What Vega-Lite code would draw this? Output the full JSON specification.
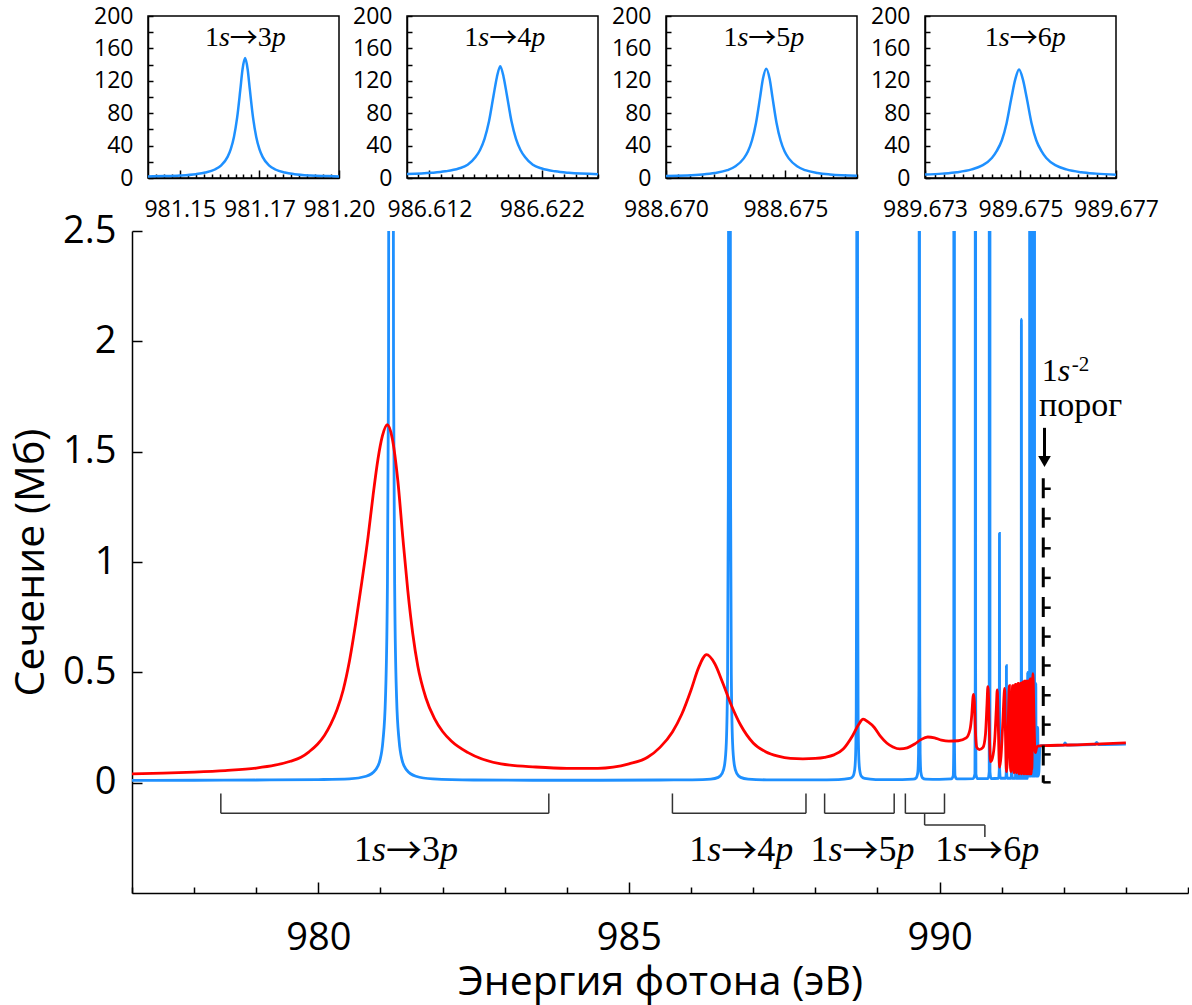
{
  "$schema": "https://vega.github.io/schema/vega-lite/v6.json",
  "background": "white",
  "padding": {"left": 10, "top": 4, "right": 0, "bottom": 8},
  "config": {
    "view": {"stroke": null},
    "font": "Open Sans",
    "axis": {"domainColor": "black", "tickColor": "black", "labelColor": "black", "titleColor": "black", "grid": false, "domainWidth": 1.5, "tickWidth": 1.5, "labelFont": "Open Sans", "titleFont": "Open Sans", "titleFontWeight": "normal", "labelFlush": false, "labelOverlap": false}
  },
  "datasets": {
    "ins1": [{"e":981.14,"s":2.0},{"e":981.145,"s":2.4},{"e":981.15,"s":3.1},{"e":981.155,"s":4.7},{"e":981.158,"s":6.7},{"e":981.161,"s":10.5},{"e":981.163,"s":15.7},{"e":981.165,"s":26.1},{"e":981.166,"s":35.7},{"e":981.167,"s":50.7},{"e":981.168,"s":74.5},{"e":981.169,"s":109},{"e":981.1697,"s":134.3},{"e":981.1705,"s":148},{"e":981.1713,"s":134.3},{"e":981.172,"s":109},{"e":981.173,"s":74.5},{"e":981.174,"s":50.7},{"e":981.175,"s":35.7},{"e":981.176,"s":26.1},{"e":981.178,"s":15.7},{"e":981.18,"s":10.5},{"e":981.183,"s":6.7},{"e":981.186,"s":4.7},{"e":981.191,"s":3.1},{"e":981.196,"s":2.4},{"e":981.2,"s":2.0}],
    "ins2": [{"e":986.61,"s":4.8},{"e":986.6122,"s":6.4},{"e":986.6134,"s":8.2},{"e":986.6146,"s":11.7},{"e":986.6154,"s":16.4},{"e":986.6161,"s":25.9},{"e":986.6165,"s":34.6},{"e":986.6169,"s":48.3},{"e":986.6173,"s":70},{"e":986.6177,"s":101.5},{"e":986.618,"s":124.5},{"e":986.6183,"s":138},{"e":986.6186,"s":124.5},{"e":986.6189,"s":101.5},{"e":986.6193,"s":70},{"e":986.6197,"s":48.3},{"e":986.6201,"s":34.6},{"e":986.6205,"s":25.9},{"e":986.6212,"s":16.4},{"e":986.622,"s":11.7},{"e":986.6232,"s":8.2},{"e":986.6244,"s":6.4},{"e":986.627,"s":4.7}],
    "ins3": [{"e":988.67,"s":2.4},{"e":988.67153,"s":4.4},{"e":988.67205,"s":6.2},{"e":988.67257,"s":9.7},{"e":988.67291,"s":14.4},{"e":988.67325,"s":23.9},{"e":988.67343,"s":32.6},{"e":988.6736,"s":46.3},{"e":988.67377,"s":68},{"e":988.67394,"s":99.5},{"e":988.67406,"s":122.5},{"e":988.6742,"s":135},{"e":988.67434,"s":122.5},{"e":988.67446,"s":99.5},{"e":988.67463,"s":68},{"e":988.6748,"s":46.3},{"e":988.67497,"s":32.6},{"e":988.67515,"s":23.9},{"e":988.67549,"s":14.4},{"e":988.67583,"s":9.7},{"e":988.67635,"s":6.2},{"e":988.67687,"s":4.4},{"e":988.678,"s":2.7}],
    "ins4": [{"e":989.673,"s":4.2},{"e":989.67336,"s":5.4},{"e":989.67367,"s":7.1},{"e":989.67398,"s":10.6},{"e":989.67419,"s":15.2},{"e":989.6744,"s":24.6},{"e":989.6745,"s":33.2},{"e":989.67461,"s":46.6},{"e":989.67471,"s":68},{"e":989.67481,"s":99},{"e":989.67489,"s":121.7},{"e":989.67497,"s":134},{"e":989.67505,"s":121.7},{"e":989.67513,"s":99},{"e":989.67523,"s":68},{"e":989.67533,"s":46.6},{"e":989.67544,"s":33.2},{"e":989.67554,"s":24.6},{"e":989.67575,"s":15.2},{"e":989.67596,"s":10.6},{"e":989.67627,"s":7.1},{"e":989.67658,"s":5.4},{"e":989.677,"s":4.1}],
    "lab1": [{"e":981.1706,"s":162.6,"a":"1","b":"s","r":"→","c":"3","d":"p"}],
    "lab2": [{"e":986.6187,"s":162.6,"a":"1","b":"s","r":"→","c":"4","d":"p"}],
    "lab3": [{"e":988.6741,"s":162.6,"a":"1","b":"s","r":"→","c":"5","d":"p"}],
    "lab4": [{"e":989.6751,"s":162.6,"a":"1","b":"s","r":"→","c":"6","d":"p"}],
    "blue": [{"e":977.0,"s":0.010},{"e":978.0,"s":0.011},{"e":979.0,"s":0.012},{"e":980.0,"s":0.014},{"e":980.5,"s":0.017},{"e":980.77,"s":0.029},{"e":980.92,"s":0.058},{"e":980.99,"s":0.100},{"e":981.04,"s":0.190},{"e":981.08,"s":0.380},{"e":981.11,"s":0.840},{"e":981.13,"s":1.880},{"e":981.15,"s":7.5},{"e":981.17,"s":147},{"e":981.19,"s":7.5},{"e":981.21,"s":1.880},{"e":981.23,"s":0.840},{"e":981.26,"s":0.380},{"e":981.30,"s":0.190},{"e":981.35,"s":0.100},{"e":981.42,"s":0.058},{"e":981.57,"s":0.029},{"e":981.84,"s":0.017},{"e":982.5,"s":0.012},{"e":983.5,"s":0.011},{"e":984.5,"s":0.011},{"e":985.5,"s":0.012},{"e":986.018,"s":0.013},{"e":986.318,"s":0.016},{"e":986.438,"s":0.024},{"e":986.498,"s":0.041},{"e":986.538,"s":0.078},{"e":986.568,"s":0.183},{"e":986.588,"s":0.490},{"e":986.600,"s":1.34},{"e":986.608,"s":4.3},{"e":986.618,"s":137},{"e":986.628,"s":4.3},{"e":986.636,"s":1.34},{"e":986.648,"s":0.490},{"e":986.668,"s":0.183},{"e":986.698,"s":0.078},{"e":986.738,"s":0.041},{"e":986.798,"s":0.024},{"e":986.918,"s":0.016},{"e":987.218,"s":0.013},{"e":988.0,"s":0.013},{"e":988.374,"s":0.014},{"e":988.554,"s":0.019},{"e":988.604,"s":0.028},{"e":988.634,"s":0.058},{"e":988.649,"s":0.126},{"e":988.659,"s":0.320},{"e":988.666,"s":1.09},{"e":988.670,"s":4.4},{"e":988.674,"s":135},{"e":988.678,"s":4.4},{"e":988.682,"s":1.09},{"e":988.689,"s":0.320},{"e":988.699,"s":0.126},{"e":988.714,"s":0.058},{"e":988.744,"s":0.028},{"e":988.794,"s":0.019},{"e":988.974,"s":0.014},{"e":989.4,"s":0.014},{"e":989.575,"s":0.016},{"e":989.625,"s":0.022},{"e":989.650,"s":0.046},{"e":989.662,"s":0.132},{"e":989.668,"s":0.42},{"e":989.672,"s":2.2},{"e":989.675,"s":134},{"e":989.678,"s":2.2},{"e":989.682,"s":0.42},{"e":989.688,"s":0.132},{"e":989.700,"s":0.046},{"e":989.725,"s":0.022},{"e":989.775,"s":0.016},{"e":990.0,"s":0.015},{"e":990.19,"s":0.017},{"e":990.22,"s":0.030},{"e":990.23,"s":0.200},{"e":990.235,"s":100},{"e":990.24,"s":0.200},{"e":990.25,"s":0.030},{"e":990.28,"s":0.017},{"e":990.54,"s":0.018},{"e":990.57,"s":0.040},{"e":990.575,"s":0.5},{"e":990.578,"s":100},{"e":990.581,"s":0.5},{"e":990.586,"s":0.040},{"e":990.61,"s":0.018},{"e":990.78,"s":0.018},{"e":990.80,"s":0.050},{"e":990.806,"s":100},{"e":990.812,"s":0.050},{"e":990.83,"s":0.018},{"e":990.95,"s":0.020},{"e":990.962,"s":0.060},{"e":990.965,"s":1.13},{"e":990.968,"s":0.060},{"e":990.98,"s":0.020},{"e":991.065,"s":0.020},{"e":991.074,"s":0.050},{"e":991.077,"s":0.53},{"e":991.080,"s":0.050},{"e":991.09,"s":0.020},{"e":991.155,"s":0.020},{"e":991.162,"s":0.30},{"e":991.169,"s":0.020},{"e":991.222,"s":0.020},{"e":991.227,"s":0.25},{"e":991.232,"s":0.020},{"e":991.274,"s":0.020},{"e":991.278,"s":0.40},{"e":991.282,"s":0.020},{"e":991.314,"s":0.020},{"e":991.318,"s":2.1},{"e":991.322,"s":0.020},{"e":991.348,"s":0.020},{"e":991.351,"s":0.35},{"e":991.354,"s":0.020},{"e":991.376,"s":0.020},{"e":991.378,"s":0.30},{"e":991.380,"s":0.020},{"e":991.398,"s":0.020},{"e":991.400,"s":0.45},{"e":991.402,"s":0.020},{"e":991.417,"s":0.020},{"e":991.419,"s":0.50},{"e":991.421,"s":0.030},{"e":991.433,"s":0.030},{"e":991.435,"s":0.40},{"e":991.437,"s":0.030},{"e":991.45,"s":0.030},{"e":991.458,"s":50},{"e":991.466,"s":0.030},{"e":991.475,"s":0.030},{"e":991.48,"s":0.50},{"e":991.485,"s":0.030},{"e":991.50,"s":0.030},{"e":991.505,"s":50},{"e":991.51,"s":0.030},{"e":991.52,"s":0.030},{"e":991.525,"s":50},{"e":991.53,"s":0.030},{"e":991.545,"s":0.030},{"e":991.55,"s":0.45},{"e":991.555,"s":0.030},{"e":991.57,"s":0.030},{"e":991.58,"s":0.25},{"e":991.59,"s":0.030},{"e":991.60,"s":0.050},{"e":991.615,"s":0.160},{"e":991.63,"s":0.168},{"e":991.8,"s":0.168},{"e":992.0,"s":0.170},{"e":992.02,"s":0.180},{"e":992.05,"s":0.170},{"e":992.5,"s":0.172},{"e":992.53,"s":0.183},{"e":992.56,"s":0.173},{"e":993.0,"s":0.175}],
    "red": [{"e":977.0,"s":0.040},{"e":977.5,"s":0.043},{"e":978.0,"s":0.048},{"e":978.5,"s":0.055},{"e":979.0,"s":0.066},{"e":979.3,"s":0.079},{"e":979.55,"s":0.097},{"e":979.72,"s":0.115},{"e":979.85,"s":0.140},{"e":979.99,"s":0.175},{"e":980.1,"s":0.215},{"e":980.2,"s":0.265},{"e":980.3,"s":0.330},{"e":980.4,"s":0.420},{"e":980.5,"s":0.550},{"e":980.6,"s":0.720},{"e":980.7,"s":0.910},{"e":980.80,"s":1.113},{"e":980.88,"s":1.300},{"e":980.96,"s":1.467},{"e":981.03,"s":1.570},{"e":981.11,"s":1.622},{"e":981.19,"s":1.560},{"e":981.28,"s":1.367},{"e":981.36,"s":1.110},{"e":981.44,"s":0.870},{"e":981.52,"s":0.675},{"e":981.60,"s":0.530},{"e":981.73,"s":0.385},{"e":981.87,"s":0.290},{"e":982.00,"s":0.232},{"e":982.14,"s":0.189},{"e":982.41,"s":0.136},{"e":982.94,"s":0.085},{"e":983.5,"s":0.071},{"e":984.0,"s":0.065},{"e":984.5,"s":0.065},{"e":985.0,"s":0.085},{"e":985.3,"s":0.115},{"e":985.5,"s":0.160},{"e":985.7,"s":0.230},{"e":985.85,"s":0.310},{"e":986.0,"s":0.420},{"e":986.12,"s":0.520},{"e":986.25,"s":0.580},{"e":986.38,"s":0.540},{"e":986.5,"s":0.460},{"e":986.65,"s":0.350},{"e":986.8,"s":0.260},{"e":987.0,"s":0.180},{"e":987.2,"s":0.140},{"e":987.4,"s":0.120},{"e":987.6,"s":0.110},{"e":987.8,"s":0.108},{"e":988.0,"s":0.110},{"e":988.15,"s":0.115},{"e":988.3,"s":0.126},{"e":988.45,"s":0.153},{"e":988.6,"s":0.213},{"e":988.7,"s":0.265},{"e":988.77,"s":0.288},{"e":988.85,"s":0.275},{"e":988.95,"s":0.250},{"e":989.05,"s":0.210},{"e":989.15,"s":0.180},{"e":989.25,"s":0.162},{"e":989.36,"s":0.153},{"e":989.48,"s":0.158},{"e":989.6,"s":0.175},{"e":989.7,"s":0.195},{"e":989.81,"s":0.207},{"e":989.92,"s":0.203},{"e":990.03,"s":0.193},{"e":990.15,"s":0.188},{"e":990.3,"s":0.190},{"e":990.43,"s":0.203},{"e":990.49,"s":0.240},{"e":990.52,"s":0.310},{"e":990.54,"s":0.390},{"e":990.55,"s":0.400},{"e":990.56,"s":0.370},{"e":990.58,"s":0.220},{"e":990.60,"s":0.160},{"e":990.64,"s":0.150},{"e":990.70,"s":0.160},{"e":990.74,"s":0.220},{"e":990.765,"s":0.360},{"e":990.778,"s":0.435},{"e":990.79,"s":0.380},{"e":990.805,"s":0.200},{"e":990.82,"s":0.095},{"e":990.85,"s":0.110},{"e":990.89,"s":0.200},{"e":990.915,"s":0.340},{"e":990.929,"s":0.420},{"e":990.94,"s":0.340},{"e":990.955,"s":0.150},{"e":990.967,"s":0.070},{"e":990.99,"s":0.120},{"e":991.02,"s":0.280},{"e":991.04,"s":0.400},{"e":991.048,"s":0.427},{"e":991.057,"s":0.300},{"e":991.07,"s":0.100},{"e":991.08,"s":0.050},{"e":991.10,"s":0.200},{"e":991.125,"s":0.440},{"e":991.135,"s":0.120},{"e":991.15,"s":0.050},{"e":991.175,"s":0.440},{"e":991.185,"s":0.100},{"e":991.20,"s":0.045},{"e":991.218,"s":0.445},{"e":991.226,"s":0.100},{"e":991.238,"s":0.045},{"e":991.262,"s":0.450},{"e":991.27,"s":0.090},{"e":991.28,"s":0.040},{"e":991.302,"s":0.450},{"e":991.309,"s":0.080},{"e":991.318,"s":0.040},{"e":991.335,"s":0.455},{"e":991.341,"s":0.070},{"e":991.35,"s":0.040},{"e":991.362,"s":0.460},{"e":991.368,"s":0.060},{"e":991.376,"s":0.040},{"e":991.388,"s":0.460},{"e":991.393,"s":0.050},{"e":991.40,"s":0.040},{"e":991.41,"s":0.460},{"e":991.414,"s":0.050},{"e":991.42,"s":0.040},{"e":991.428,"s":0.460},{"e":991.432,"s":0.050},{"e":991.437,"s":0.040},{"e":991.444,"s":0.460},{"e":991.448,"s":0.050},{"e":991.452,"s":0.040},{"e":991.458,"s":0.470},{"e":991.461,"s":0.050},{"e":991.465,"s":0.040},{"e":991.47,"s":0.470},{"e":991.473,"s":0.050},{"e":991.477,"s":0.040},{"e":991.482,"s":0.470},{"e":991.485,"s":0.060},{"e":991.49,"s":0.100},{"e":991.504,"s":0.494},{"e":991.52,"s":0.300},{"e":991.535,"s":0.150},{"e":991.546,"s":0.136},{"e":991.56,"s":0.155},{"e":991.58,"s":0.166},{"e":991.7,"s":0.168},{"e":992.0,"s":0.170},{"e":992.3,"s":0.172},{"e":992.6,"s":0.176},{"e":993.0,"s":0.180}],
    "brk": [{"e":978.43,"s":-0.049,"e2":978.43,"s2":-0.139},{"e":983.71,"s":-0.049,"e2":983.71,"s2":-0.139},{"e":978.43,"s":-0.139,"e2":983.71,"s2":-0.139},{"e":985.70,"s":-0.049,"e2":985.70,"s2":-0.139},{"e":987.85,"s":-0.049,"e2":987.85,"s2":-0.139},{"e":985.70,"s":-0.139,"e2":987.85,"s2":-0.139},{"e":988.15,"s":-0.049,"e2":988.15,"s2":-0.139},{"e":989.27,"s":-0.049,"e2":989.27,"s2":-0.139},{"e":988.15,"s":-0.139,"e2":989.27,"s2":-0.139},{"e":989.45,"s":-0.049,"e2":989.45,"s2":-0.139},{"e":990.08,"s":-0.049,"e2":990.08,"s2":-0.139},{"e":989.45,"s":-0.139,"e2":990.08,"s2":-0.139},{"e":989.76,"s":-0.139,"e2":989.76,"s2":-0.192},{"e":989.76,"s":-0.192,"e2":990.73,"s2":-0.192},{"e":990.73,"s":-0.192,"e2":990.73,"s2":-0.246}],
    "brl": [{"e":981.41,"s":-0.355,"a":"1","b":"s","r":"→","c":"3","d":"p"},{"e":986.81,"s":-0.355,"a":"1","b":"s","r":"→","c":"4","d":"p"},{"e":988.76,"s":-0.355,"a":"1","b":"s","r":"→","c":"5","d":"p"},{"e":990.77,"s":-0.355,"a":"1","b":"s","r":"→","c":"6","d":"p"}],
    "thr": [{"e":991.67,"s":1.38,"s2":0}],
    "thrt": [{"e":991.67,"e2":991.79,"s":1.332},{"e":991.67,"e2":991.79,"s":1.197},{"e":991.67,"e2":991.79,"s":1.062},{"e":991.67,"e2":991.79,"s":0.928},{"e":991.67,"e2":991.79,"s":0.793},{"e":991.67,"e2":991.79,"s":0.662},{"e":991.67,"e2":991.79,"s":0.531},{"e":991.67,"e2":991.79,"s":0.396},{"e":991.67,"e2":991.79,"s":0.263},{"e":991.67,"e2":991.79,"s":0.128},{"e":991.67,"e2":991.79,"s":0.0015}],
    "arr": [{"e":991.69,"s":1.608,"s2":1.47}],
    "arh": [{"e":991.69,"s":1.455}],
    "t1s": [{"e":991.645,"s":1.82,"a":"1","b":"s","c":"-2"}],
    "tpor": [{"e":992.27,"s":1.661,"t":"порог"}]
  },
  "bounds": "flush",
  "spacing": 215,
  "vconcat": [
    {
      "bounds": "flush",
      "spacing": 15,
      "hconcat": [
        {"width": 1, "height": 162, "data": {"values": []}, "mark": "point"},
        {
          "bounds": "flush",
          "spacing": 68,
          "hconcat": [
            {
              "width": 191, "height": 162,
              "view": {"stroke": "black", "strokeWidth": 1.5},
              "encoding": {
                "x": {"field": "e", "type": "quantitative", "scale": {"domain": [981.14, 981.2], "nice": false, "zero": false},
                  "axis": {"title": null, "values": [981.1425,981.145,981.1475,981.15,981.1525,981.155,981.1575,981.16,981.1625,981.165,981.1675,981.17,981.1725,981.175,981.1775,981.18,981.1825,981.185,981.1875,981.19,981.1925,981.195,981.1975,981.2],
                    "labelExpr": "abs(datum.value*40 - round(datum.value*40)) < 0.01 ? format(datum.value, '.2f') : ''",
                    "tickSize": {"condition": {"test": "abs(datum.value*40 - round(datum.value*40)) < 0.01", "value": -8}, "value": -4},
                    "labelPadding": 28, "labelFontSize": 23}},
                "y": {"field": "s", "type": "quantitative", "scale": {"domain": [0, 200], "nice": false},
                  "axis": {"title": null, "values": [0,20,40,60,80,100,120,140,160,180,200], "labelExpr": "datum.value % 40 === 0 ? datum.label : ''", "tickSize": -5, "labelPadding": 20, "labelFontSize": 23}}
              },
              "layer": [
                {"data": {"name": "ins1"}, "mark": {"type": "line", "color": "#1E90FF", "strokeWidth": 2.5, "clip": true, "interpolate": "monotone"}},
                {"data": {"name": "lab1"}, "mark": {"type": "text", "font": "Liberation Serif", "fontSize": 28, "align": "left", "baseline": "alphabetic", "dx": -40.5}, "encoding": {"text": {"field": "a"}}},
                {"data": {"name": "lab1"}, "mark": {"type": "text", "font": "Liberation Serif", "fontSize": 28, "fontStyle": "italic", "align": "left", "baseline": "alphabetic", "dx": -26.5}, "encoding": {"text": {"field": "b"}}},
                {"data": {"name": "lab1"}, "mark": {"type": "text", "font": "Noto Sans CJK JP", "fontSize": 28, "align": "left", "baseline": "alphabetic", "dx": -15.6, "dy": 2}, "encoding": {"text": {"field": "r"}}},
                {"data": {"name": "lab1"}, "mark": {"type": "text", "font": "Liberation Serif", "fontSize": 28, "align": "left", "baseline": "alphabetic", "dx": 12.4}, "encoding": {"text": {"field": "c"}}},
                {"data": {"name": "lab1"}, "mark": {"type": "text", "font": "Liberation Serif", "fontSize": 28, "fontStyle": "italic", "align": "left", "baseline": "alphabetic", "dx": 26.4}, "encoding": {"text": {"field": "d"}}}
              ]
            },
            {
              "width": 191, "height": 162,
              "view": {"stroke": "black", "strokeWidth": 1.5},
              "encoding": {
                "x": {"field": "e", "type": "quantitative", "scale": {"domain": [986.61, 986.627], "nice": false, "zero": false},
                  "axis": {"title": null, "values": [986.611,986.612,986.613,986.614,986.615,986.616,986.617,986.618,986.619,986.62,986.621,986.622,986.623,986.624,986.625,986.626,986.627],
                    "labelExpr": "abs((datum.value-986.612)*100 - round((datum.value-986.612)*100)) < 0.01 ? format(datum.value, '.3f') : ''",
                    "tickSize": {"condition": {"test": "abs((datum.value-986.612)*100 - round((datum.value-986.612)*100)) < 0.01", "value": -8}, "value": -4},
                    "labelPadding": 28, "labelFontSize": 23}},
                "y": {"field": "s", "type": "quantitative", "scale": {"domain": [0, 200], "nice": false},
                  "axis": {"title": null, "values": [0,20,40,60,80,100,120,140,160,180,200], "labelExpr": "datum.value % 40 === 0 ? datum.label : ''", "tickSize": -5, "labelPadding": 20, "labelFontSize": 23}}
              },
              "layer": [
                {"data": {"name": "ins2"}, "mark": {"type": "line", "color": "#1E90FF", "strokeWidth": 2.5, "clip": true, "interpolate": "monotone"}},
                {"data": {"name": "lab2"}, "mark": {"type": "text", "font": "Liberation Serif", "fontSize": 28, "align": "left", "baseline": "alphabetic", "dx": -40.5}, "encoding": {"text": {"field": "a"}}},
                {"data": {"name": "lab2"}, "mark": {"type": "text", "font": "Liberation Serif", "fontSize": 28, "fontStyle": "italic", "align": "left", "baseline": "alphabetic", "dx": -26.5}, "encoding": {"text": {"field": "b"}}},
                {"data": {"name": "lab2"}, "mark": {"type": "text", "font": "Noto Sans CJK JP", "fontSize": 28, "align": "left", "baseline": "alphabetic", "dx": -15.6, "dy": 2}, "encoding": {"text": {"field": "r"}}},
                {"data": {"name": "lab2"}, "mark": {"type": "text", "font": "Liberation Serif", "fontSize": 28, "align": "left", "baseline": "alphabetic", "dx": 12.4}, "encoding": {"text": {"field": "c"}}},
                {"data": {"name": "lab2"}, "mark": {"type": "text", "font": "Liberation Serif", "fontSize": 28, "fontStyle": "italic", "align": "left", "baseline": "alphabetic", "dx": 26.4}, "encoding": {"text": {"field": "d"}}}
              ]
            },
            {
              "width": 191, "height": 162,
              "view": {"stroke": "black", "strokeWidth": 1.5},
              "encoding": {
                "x": {"field": "e", "type": "quantitative", "scale": {"domain": [988.67, 988.678], "nice": false, "zero": false},
                  "axis": {"title": null, "values": [988.67,988.6705,988.671,988.6715,988.672,988.6725,988.673,988.6735,988.674,988.6745,988.675,988.6755,988.676,988.6765,988.677,988.6775,988.678],
                    "labelExpr": "abs((datum.value-988.67)*200 - round((datum.value-988.67)*200)) < 0.01 ? format(datum.value, '.3f') : ''",
                    "tickSize": {"condition": {"test": "abs((datum.value-988.67)*200 - round((datum.value-988.67)*200)) < 0.01", "value": -8}, "value": -4},
                    "labelPadding": 28, "labelFontSize": 23}},
                "y": {"field": "s", "type": "quantitative", "scale": {"domain": [0, 200], "nice": false},
                  "axis": {"title": null, "values": [0,20,40,60,80,100,120,140,160,180,200], "labelExpr": "datum.value % 40 === 0 ? datum.label : ''", "tickSize": -5, "labelPadding": 20, "labelFontSize": 23}}
              },
              "layer": [
                {"data": {"name": "ins3"}, "mark": {"type": "line", "color": "#1E90FF", "strokeWidth": 2.5, "clip": true, "interpolate": "monotone"}},
                {"data": {"name": "lab3"}, "mark": {"type": "text", "font": "Liberation Serif", "fontSize": 28, "align": "left", "baseline": "alphabetic", "dx": -40.5}, "encoding": {"text": {"field": "a"}}},
                {"data": {"name": "lab3"}, "mark": {"type": "text", "font": "Liberation Serif", "fontSize": 28, "fontStyle": "italic", "align": "left", "baseline": "alphabetic", "dx": -26.5}, "encoding": {"text": {"field": "b"}}},
                {"data": {"name": "lab3"}, "mark": {"type": "text", "font": "Noto Sans CJK JP", "fontSize": 28, "align": "left", "baseline": "alphabetic", "dx": -15.6, "dy": 2}, "encoding": {"text": {"field": "r"}}},
                {"data": {"name": "lab3"}, "mark": {"type": "text", "font": "Liberation Serif", "fontSize": 28, "align": "left", "baseline": "alphabetic", "dx": 12.4}, "encoding": {"text": {"field": "c"}}},
                {"data": {"name": "lab3"}, "mark": {"type": "text", "font": "Liberation Serif", "fontSize": 28, "fontStyle": "italic", "align": "left", "baseline": "alphabetic", "dx": 26.4}, "encoding": {"text": {"field": "d"}}}
              ]
            },
            {
              "width": 191, "height": 162,
              "view": {"stroke": "black", "strokeWidth": 1.5},
              "encoding": {
                "x": {"field": "e", "type": "quantitative", "scale": {"domain": [989.673, 989.677], "nice": false, "zero": false},
                  "axis": {"title": null, "values": [989.673,989.6732,989.6734,989.6736,989.6738,989.674,989.6742,989.6744,989.6746,989.6748,989.675,989.6752,989.6754,989.6756,989.6758,989.676,989.6762,989.6764,989.6766,989.6768,989.677],
                    "labelExpr": "abs((datum.value-989.673)*500 - round((datum.value-989.673)*500)) < 0.01 ? format(datum.value, '.3f') : ''",
                    "tickSize": {"condition": {"test": "abs((datum.value-989.673)*500 - round((datum.value-989.673)*500)) < 0.01", "value": -8}, "value": -4},
                    "labelPadding": 28, "labelFontSize": 23}},
                "y": {"field": "s", "type": "quantitative", "scale": {"domain": [0, 200], "nice": false},
                  "axis": {"title": null, "values": [0,20,40,60,80,100,120,140,160,180,200], "labelExpr": "datum.value % 40 === 0 ? datum.label : ''", "tickSize": -5, "labelPadding": 20, "labelFontSize": 23}}
              },
              "layer": [
                {"data": {"name": "ins4"}, "mark": {"type": "line", "color": "#1E90FF", "strokeWidth": 2.5, "clip": true, "interpolate": "monotone"}},
                {"data": {"name": "lab4"}, "mark": {"type": "text", "font": "Liberation Serif", "fontSize": 28, "align": "left", "baseline": "alphabetic", "dx": -40.5}, "encoding": {"text": {"field": "a"}}},
                {"data": {"name": "lab4"}, "mark": {"type": "text", "font": "Liberation Serif", "fontSize": 28, "fontStyle": "italic", "align": "left", "baseline": "alphabetic", "dx": -26.5}, "encoding": {"text": {"field": "b"}}},
                {"data": {"name": "lab4"}, "mark": {"type": "text", "font": "Noto Sans CJK JP", "fontSize": 28, "align": "left", "baseline": "alphabetic", "dx": -15.6, "dy": 2}, "encoding": {"text": {"field": "r"}}},
                {"data": {"name": "lab4"}, "mark": {"type": "text", "font": "Liberation Serif", "fontSize": 28, "align": "left", "baseline": "alphabetic", "dx": 12.4}, "encoding": {"text": {"field": "c"}}},
                {"data": {"name": "lab4"}, "mark": {"type": "text", "font": "Liberation Serif", "fontSize": 28, "fontStyle": "italic", "align": "left", "baseline": "alphabetic", "dx": 26.4}, "encoding": {"text": {"field": "d"}}}
              ]
            }
          ]
        }
      ]
    },
    {
      "width": 1056, "height": 662,
      "encoding": {
        "x": {"field": "e", "type": "quantitative", "scale": {"domain": [977, 994], "nice": false, "zero": false},
          "axis": {"title": "Энергия фотона (эВ)", "values": [977,978,979,980,981,982,983,984,985,986,987,988,989,990,991,992,993,994], "format": "d",
            "labelExpr": "datum.value % 5 === 0 ? datum.label : ''",
            "tickSize": {"condition": {"test": "datum.value % 5 === 0", "value": -11}, "value": -6},
            "labelPadding": 37, "labelFontSize": 38, "titleFontSize": 41, "titlePadding": 0}},
        "y": {"field": "s", "type": "quantitative", "scale": {"domain": [-0.5, 2.5], "nice": false, "zero": false},
          "axis": {"title": "Сечение (Мб)", "values": [0, 0.5, 1, 1.5, 2, 2.5], "format": "~g", "tickSize": -10, "labelPadding": 26, "labelFontSize": 38, "titleFontSize": 41, "titlePadding": 10}}
      },
      "layer": [
        {"data": {"name": "blue"}, "mark": {"type": "line", "color": "#1E90FF", "strokeWidth": 2.8, "clip": true, "interpolate": "monotone"}},
        {"data": {"name": "red"}, "mark": {"type": "line", "color": "#FF0000", "strokeWidth": 2.8, "clip": true, "interpolate": "monotone"}},
        {"data": {"name": "brk"}, "mark": {"type": "rule", "color": "#333333", "strokeWidth": 1.5}, "encoding": {"x2": {"field": "e2"}, "y2": {"field": "s2"}}},
        {"data": {"name": "brl"}, "mark": {"type": "text", "font": "Liberation Serif", "fontSize": 36, "align": "left", "baseline": "alphabetic", "dx": -52}, "encoding": {"text": {"field": "a"}}},
        {"data": {"name": "brl"}, "mark": {"type": "text", "font": "Liberation Serif", "fontSize": 36, "fontStyle": "italic", "align": "left", "baseline": "alphabetic", "dx": -34}, "encoding": {"text": {"field": "b"}}},
        {"data": {"name": "brl"}, "mark": {"type": "text", "font": "Noto Sans CJK JP", "fontSize": 36, "align": "left", "baseline": "alphabetic", "dx": -20, "dy": 3}, "encoding": {"text": {"field": "r"}}},
        {"data": {"name": "brl"}, "mark": {"type": "text", "font": "Liberation Serif", "fontSize": 36, "align": "left", "baseline": "alphabetic", "dx": 16}, "encoding": {"text": {"field": "c"}}},
        {"data": {"name": "brl"}, "mark": {"type": "text", "font": "Liberation Serif", "fontSize": 36, "fontStyle": "italic", "align": "left", "baseline": "alphabetic", "dx": 34}, "encoding": {"text": {"field": "d"}}},
        {"data": {"name": "thr"}, "mark": {"type": "rule", "color": "black", "strokeWidth": 3, "strokeDash": [20, 9.7]}, "encoding": {"y2": {"field": "s2"}}},
        {"data": {"name": "thrt"}, "mark": {"type": "rule", "color": "black", "strokeWidth": 2.5}, "encoding": {"x2": {"field": "e2"}}},
        {"data": {"name": "arr"}, "mark": {"type": "rule", "color": "black", "strokeWidth": 3}, "encoding": {"y2": {"field": "s2"}}},
        {"data": {"name": "arh"}, "mark": {"type": "point", "shape": "triangle-down", "size": 160, "filled": true, "color": "black", "opacity": 1}},
        {"data": {"name": "t1s"}, "mark": {"type": "text", "font": "Liberation Serif", "fontSize": 32, "align": "left", "baseline": "alphabetic"}, "encoding": {"text": {"field": "a"}}},
        {"data": {"name": "t1s"}, "mark": {"type": "text", "font": "Liberation Serif", "fontSize": 32, "fontStyle": "italic", "align": "left", "baseline": "alphabetic", "dx": 16}, "encoding": {"text": {"field": "b"}}},
        {"data": {"name": "t1s"}, "mark": {"type": "text", "font": "Liberation Serif", "fontSize": 21, "align": "left", "baseline": "alphabetic", "dx": 30, "dy": -10}, "encoding": {"text": {"field": "c"}}},
        {"data": {"name": "tpor"}, "mark": {"type": "text", "font": "Liberation Serif", "fontSize": 34, "align": "center", "baseline": "alphabetic"}, "encoding": {"text": {"field": "t"}}}
      ]
    }
  ]
}
